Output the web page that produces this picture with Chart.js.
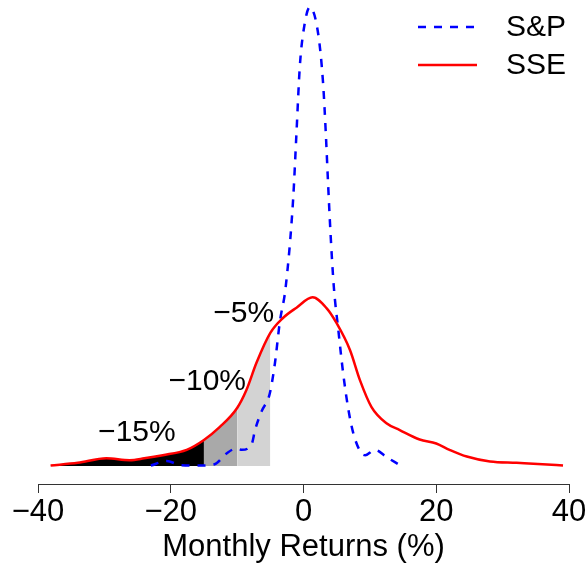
<!DOCTYPE html>
<html>
<head>
<meta charset="utf-8">
<script src="https://cdn.jsdelivr.net/npm/chart.js@4.4.1/dist/chart.umd.min.js"></script>
<style>
  html, body { margin: 0; padding: 0; background: #ffffff; }
  #wrap { width: 588px; height: 568px; }
</style>
</head>
<body>
<div id="wrap"><canvas id="c" width="588" height="568"></canvas></div>
<script>
// Kernel density of monthly returns (%), S&P 500
const spReturns = [-23, -20.6, -18.5, -16, -13.4, -11.6, -10.1, -9.3, -7.8, -7.3, -6.3, -5.1, -4.3, -3.57, -2.7,
  -1.57, -1.06, -0.56, -0.05, 0.95, 2.2, 2.95, 3.36, 3.7, 4.07, 4.57, 5.25, 5.97, 6.7, 7.5, 8.7, 9.3, 10.75, 12.5, 14.5];
const spDensity = [0.0001, 0.0011, 0.0002, 0.0001, 0.0004, 0.0028, 0.0039, 0.0036, 0.0049, 0.0080, 0.0122, 0.0160, 0.0229, 0.0320, 0.0396,
  0.0591, 0.0740, 0.0887, 0.0962, 0.1020, 0.0962, 0.0851, 0.0740, 0.0629, 0.0518, 0.0398, 0.0302, 0.0207, 0.0131, 0.0073, 0.0029, 0.0024, 0.0036, 0.0020, 0.0002];

// Kernel density of monthly returns (%), Shanghai Stock Exchange
const sseReturns = [-38.1, -34, -29.7, -26.2, -24, -21.2, -17.6, -15, -12.6, -10, -8.6, -7.1, -5, -3.1, -1.05,
  1.36, 3.47, 4.97, 7, 8.5, 10.25, 12.5, 14.5, 17.5, 20, 22, 24.6, 28.1, 32.1, 36, 39.1];
const sseDensity = [0.0001, 0.0007, 0.0017, 0.0013, 0.0017, 0.0024, 0.0036, 0.0058, 0.0087, 0.0129, 0.0169, 0.0229, 0.0296, 0.0329, 0.0352,
  0.0375, 0.0351, 0.0318, 0.0258, 0.0191, 0.0131, 0.0095, 0.0080, 0.0059, 0.0050, 0.0036, 0.0021, 0.0010, 0.0007, 0.0004, 0.0001];

const xTicks = [-40, -20, 0, 20, 40];

// Loss thresholds shading the SSE left tail
const lossThresholds = [-15, -10, -5];
const bandLabels = ['\u221215%', '\u221210%', '\u22125%'];

// Layout / styling
const FONT = "'Liberation Sans', Arial, Helvetica, sans-serif";
const bandColors = ['#000000', '#A9A9A9', '#D3D3D3'];
const labelAnchorX = [-25.1, -14.5, -9.0];
const labelAnchorY = [0.0073, 0.0187, 0.0338];

const toPoints = (xs, ys) => xs.map((x, i) => ({ x: x, y: ys[i] }));
const ssePoints = toPoints(sseReturns, sseDensity);
const spPoints = toPoints(spReturns, spDensity);

// Tail bands: (-inf, -15], [-15, -10], [-10, -5]
const bandEdges = [-Infinity].concat(lossThresholds);
const bandDatasets = lossThresholds.map((hi, i) => {
  const lo = bandEdges[i];
  return {
    data: ssePoints.filter(p => p.x >= lo && p.x <= hi),
    borderWidth: 0,
    borderColor: 'rgba(0,0,0,0)',
    backgroundColor: bandColors[i],
    fill: 'origin',
    pointRadius: 0,
    cubicInterpolationMode: 'monotone',
    order: 2
  };
});

const minusFmt = v => (v < 0 ? '\u2212' + Math.abs(v) : String(v));

const overlay = {
  id: 'overlay',
  afterDraw(chart) {
    const ctx = chart.ctx;
    const xs = chart.scales.x, ys = chart.scales.y;
    ctx.save();
    ctx.fillStyle = '#000';
    ctx.font = '30px ' + FONT;
    ctx.textAlign = 'center';
    ctx.textBaseline = 'middle';
    bandLabels.forEach((t, i) => {
      ctx.fillText(t, xs.getPixelForValue(labelAnchorX[i]), ys.getPixelForValue(labelAnchorY[i]));
    });

    // legend
    ctx.lineWidth = 2.5;
    ctx.strokeStyle = '#0000FF';
    ctx.setLineDash([8, 8]);
    ctx.beginPath(); ctx.moveTo(418, 27); ctx.lineTo(476, 27); ctx.stroke();
    ctx.setLineDash([]);
    ctx.strokeStyle = '#FF0000';
    ctx.beginPath(); ctx.moveTo(418, 65); ctx.lineTo(477, 65); ctx.stroke();
    ctx.textAlign = 'left';
    ctx.fillText('S&P', 506, 28);
    ctx.fillText('SSE', 506, 66);
    ctx.restore();
  }
};

new Chart(document.getElementById('c'), {
  type: 'line',
  data: {
    datasets: [
      {
        label: 'SSE',
        data: ssePoints,
        borderColor: '#FF0000',
        borderWidth: 2.5,
        pointRadius: 0,
        fill: false,
        cubicInterpolationMode: 'monotone',
        order: 0
      },
      {
        label: 'S&P',
        data: spPoints,
        borderColor: '#0000FF',
        borderWidth: 2.5,
        borderDash: [8, 8],
        pointRadius: 0,
        fill: false,
        cubicInterpolationMode: 'monotone',
        order: 1
      }
    ].concat(bandDatasets)
  },
  options: {
    responsive: false,
    animation: false,
    devicePixelRatio: 1,
    layout: { padding: { left: 38, right: 19, top: 0, bottom: 0 } },
    plugins: { legend: { display: false }, tooltip: { enabled: false } },
    scales: {
      x: {
        type: 'linear',
        min: -40,
        max: 40,
        afterBuildTicks: s => { s.ticks = xTicks.map(v => ({ value: v })); },
        afterFit: s => { s.height = 84; },
        ticks: {
          color: '#000',
          font: { size: 31, family: FONT },
          padding: 1,
          maxRotation: 0,
          autoSkip: false,
          callback: minusFmt
        },
        grid: {
          display: true,
          drawOnChartArea: false,
          drawTicks: true,
          tickLength: 9,
          color: '#333',
          lineWidth: 1
        },
        border: { display: true, color: '#333', width: 1 },
        title: {
          display: true,
          text: 'Monthly Returns (%)',
          color: '#000',
          font: { size: 31, family: FONT },
          padding: { top: 0, bottom: 2 }
        }
      },
      y: {
        display: false,
        min: -0.004,
        max: 0.1036
      }
    }
  },
  plugins: [overlay]
});
</script>
</body>
</html>
